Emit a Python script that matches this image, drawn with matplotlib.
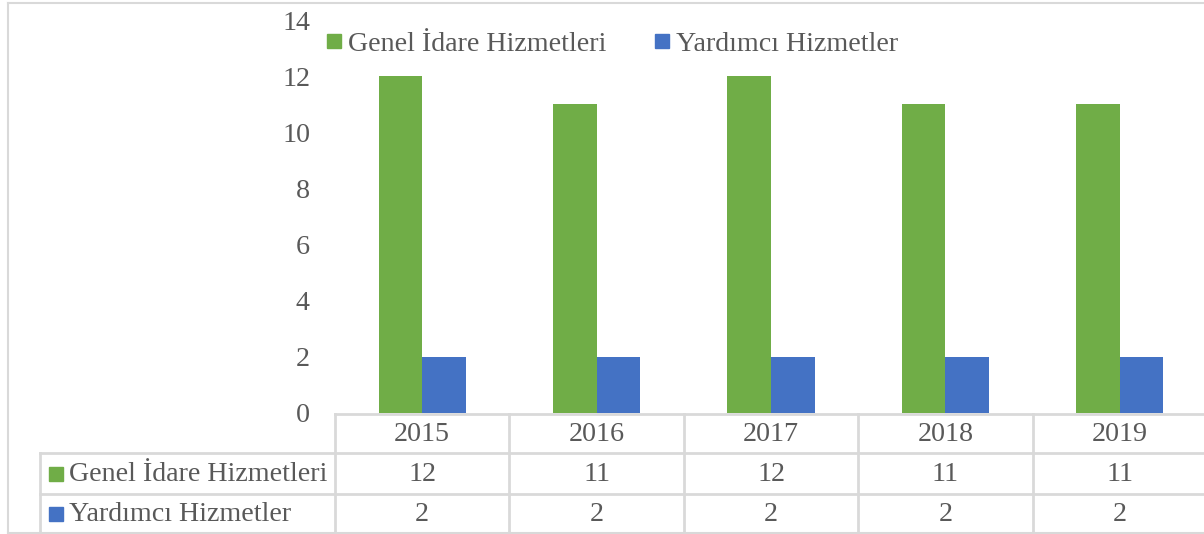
import matplotlib.pyplot as plt
from matplotlib.lines import Line2D
from matplotlib.patches import Rectangle
import matplotlib.transforms as mtransforms

# Data
years = ["2015", "2016", "2017", "2018", "2019"]
genel_idare = [12, 11, 12, 11, 11]
yardimci = [2, 2, 2, 2, 2]
series_names = ["Genel İdare Hizmetleri", "Yardımcı Hizmetler"]
series_colors = ["#70AD47", "#4472C4"]
y_ticks = [0, 2, 4, 6, 8, 10, 12, 14]

plt.rcParams['font.family'] = ['Liberation Serif', 'DejaVu Serif']
text_color = "#595959"
line_color = "#D9D9D9"
fs = 20.2

W, H = 1204, 534
fig = plt.figure(figsize=(W / 100, H / 100), dpi=100)

# overlay axes in pixel coordinates (for table lines / border)
ov = fig.add_axes([0, 0, 1, 1])
ov.set_xlim(0, W)
ov.set_ylim(H, 0)
ov.axis('off')

# main bar axes: x 335..1207 px, y 20..413 px
left, right, top, bottom = 335, 1207, 20, 413
ax = fig.add_axes([left / W, 1 - bottom / H, (right - left) / W, (bottom - top) / H])
ax.patch.set_alpha(0)

x = list(range(len(years)))
bw = 0.25
ax.bar([i - bw / 2 for i in x], genel_idare, width=bw, color=series_colors[0], zorder=3)
ax.bar([i + bw / 2 for i in x], yardimci, width=bw, color=series_colors[1], zorder=3)
ax.set_xlim(-0.5, len(years) - 0.5)
ax.set_ylim(0, 14)
ax.set_yticks(y_ticks)
ax.set_yticklabels([str(t) for t in y_ticks], fontsize=fs, color=text_color)
ax.tick_params(axis='y', length=0, pad=18)
ax.set_xticks([])
for s in ax.spines.values():
    s.set_visible(False)

# chart border
ov.plot([8, 8], [3, 533], color=line_color, lw=1.5)
ov.plot([8, W], [3, 3], color=line_color, lw=1.5)
ov.plot([8, W], [533, 533], color=line_color, lw=1.5)

# data table
tr = mtransforms.blended_transform_factory(ax.transData, ov.transData)
row_year, row1, row2, row_end = 414, 453, 494, 533
lw = 2
ov.plot([left, W], [row_year, row_year], color=line_color, lw=lw, zorder=4)
ov.plot([40, W], [row1, row1], color=line_color, lw=lw)
ov.plot([40, W], [row2, row2], color=line_color, lw=lw)
ov.plot([40, 40], [row1, row_end], color=line_color, lw=lw)
for i in range(len(years) + 1):
    ov.plot([i - 0.5, i - 0.5], [row_year, row_end], color=line_color, lw=lw, transform=tr)

for i, yr in enumerate(years):
    ov.text(i, (row_year + row1) / 2 + 1, yr, transform=tr, ha='center', va='center', fontsize=fs, color=text_color)
    ov.text(i, (row1 + row2) / 2 + 1, str(genel_idare[i]), transform=tr, ha='center', va='center', fontsize=fs, color=text_color)
    ov.text(i, (row2 + row_end) / 2 + 1, str(yardimci[i]), transform=tr, ha='center', va='center', fontsize=fs, color=text_color)

for name, color, (y0, y1) in zip(series_names, series_colors, [(row1, row2), (row2, row_end)]):
    yc = (y0 + y1) / 2
    ov.add_patch(Rectangle((49, yc - 7), 14, 14, color=color))
    ov.text(69, yc + 1, name, ha='left', va='center', fontsize=fs, color=text_color)

# legend
handles = [Line2D([], [], marker='s', linestyle='none', markersize=10, color=c) for c in series_colors]
fig.legend(handles, series_names, loc='center', bbox_to_anchor=(612 / W, 1 - 44 / H),
           ncol=2, frameon=False, fontsize=fs, labelcolor=text_color,
           handlelength=0.6, handletextpad=0.2, columnspacing=1.7)

fig.savefig("out.png", dpi=100)
